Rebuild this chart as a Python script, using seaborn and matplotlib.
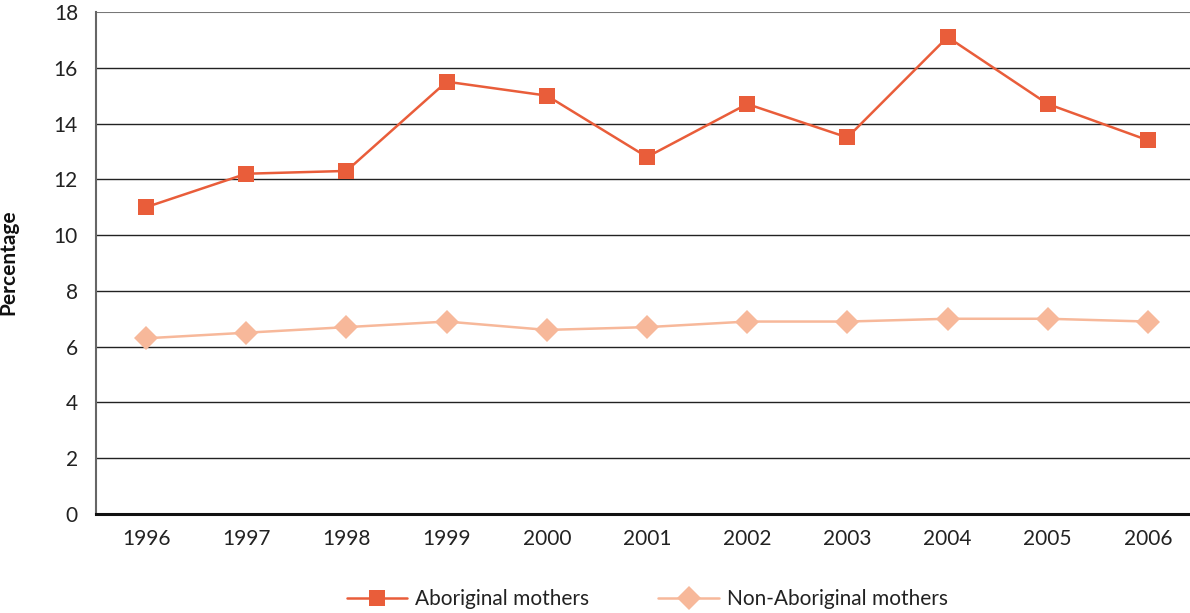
import matplotlib
matplotlib.use('Agg')
import matplotlib.pyplot as plt
import numpy as np
import pandas as pd
import seaborn as sns

years = ['1996', '1997', '1998', '1999', '2000', '2001', '2002', '2003', '2004', '2005', '2006']
aboriginal = [11.0, 12.2, 12.3, 15.5, 15.0, 12.8, 14.7, 13.5, 17.1, 14.7, 13.4]
non_aboriginal = [6.3, 6.5, 6.7, 6.9, 6.6, 6.7, 6.9, 6.9, 7.0, 7.0, 6.9]

sns.set_style('white')
plt.rcParams['font.family'] = ['Lato', 'DejaVu Sans']

df = pd.DataFrame({'pos': np.arange(len(years)),
                   'Aboriginal mothers': aboriginal,
                   'Non-Aboriginal mothers': non_aboriginal})

fig = plt.figure(figsize=(11.9, 6.13), dpi=100)
ax = fig.add_axes([0.0807, 0.1615, 0.9193, 0.819])

sns.lineplot(data=df, x='pos', y='Aboriginal mothers', ax=ax, color='#E95D3A',
             marker='s', markersize=12, markeredgewidth=0, linewidth=1.8,
             label='Aboriginal mothers')
sns.lineplot(data=df, x='pos', y='Non-Aboriginal mothers', ax=ax, color='#F7B89A',
             marker='D', markersize=12, markeredgewidth=0, linewidth=1.8,
             label='Non-Aboriginal mothers')

ax.set_ylim(0, 18)
ax.set_xlim(-0.5, 10.42)
ax.set_yticks(range(0, 19, 2))
ax.set_xticks(df['pos'])
ax.set_xticklabels(years)
ax.set_xticks(np.arange(0.5, len(years) - 0.5, 1), minor=True)
ax.tick_params(axis='x', which='major', length=0, labelsize=15, pad=11, colors='#222222')
ax.tick_params(axis='x', which='minor', direction='in', length=7, width=1.5, color='#222222')
ax.tick_params(axis='y', length=0, labelsize=15, pad=13, colors='#222222')

for y in range(2, 18, 2):
    ax.axhline(y, color='#222222', linewidth=1.0, zorder=0)
ax.axhline(18, color='#777777', linewidth=1.5, zorder=0)

for s in ['top', 'right']:
    ax.spines[s].set_visible(False)
ax.spines['left'].set_color('#666666')
ax.spines['left'].set_linewidth(1.5)
ax.spines['bottom'].set_color('#111111')
ax.spines['bottom'].set_linewidth(2.2)

ax.set_xlabel('')
ax.set_ylabel('Percentage', fontsize=15, fontweight='bold', color='#111111')
ax.yaxis.set_label_coords(-0.0713, 0.502)

ax.legend(loc='upper center', bbox_to_anchor=(0.504, -0.113), ncol=2,
          frameon=False, fontsize=15, handlelength=2.9, columnspacing=3.3,
          handletextpad=0.4, labelcolor='#222222')

fig.savefig('out.png', dpi=100)
